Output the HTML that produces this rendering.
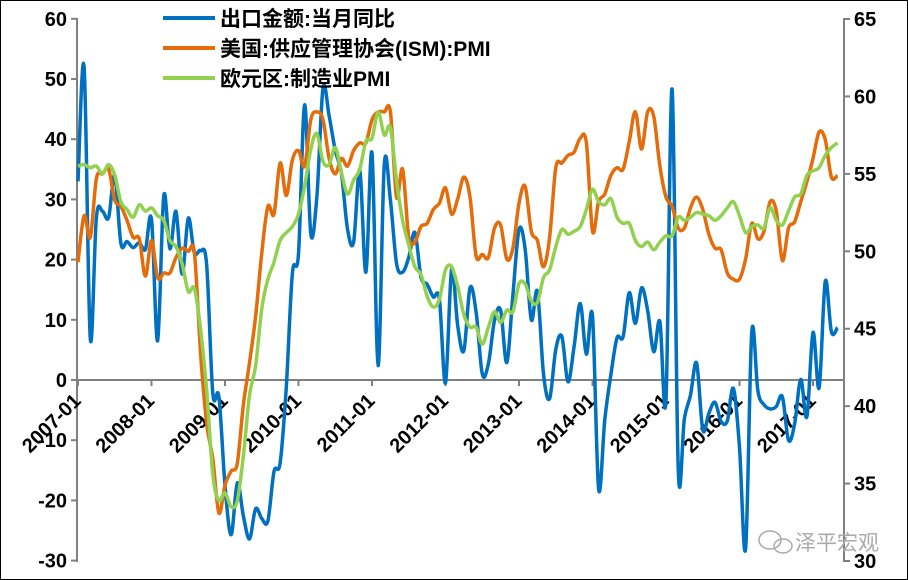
<!DOCTYPE html>
<html><head><meta charset="utf-8"><style>
html,body{margin:0;padding:0;background:#fff}
svg{display:block;font-family:"Liberation Sans","Noto Sans CJK SC",sans-serif}
</style></head><body>
<svg id="chart" width="908" height="580" viewBox="0 0 908 580" xmlns="http://www.w3.org/2000/svg">
<rect x="0.5" y="0.5" width="907" height="579" fill="#fff" stroke="#000" stroke-width="1"/>
<g id="axes"></g>
<g id="series"></g>
<g font-size="21" font-weight="bold" fill="#000">
<g><line x1="163" y1="18" x2="215" y2="18" stroke="#0070C0" stroke-width="4"/><text x="220" y="26">出口金额:当月同比</text></g>
<g><line x1="163" y1="48" x2="215" y2="48" stroke="#E46C0A" stroke-width="4"/><text x="220" y="56">美国:供应管理协会(ISM):PMI</text></g>
<g><line x1="163" y1="78" x2="215" y2="78" stroke="#92D050" stroke-width="4"/><text x="220" y="86">欧元区:制造业PMI</text></g>
</g>
<g fill="#999">
<ellipse cx="770" cy="540" rx="11" ry="9" fill="none" stroke="#aaa" stroke-width="1.5"/>
<ellipse cx="783" cy="546" rx="9" ry="7" fill="none" stroke="#aaa" stroke-width="1.5"/>
<text x="795" y="550" font-size="21" fill="#aaa">泽平宏观</text>
</g>
</svg>
<script>
const startYear = 2007;
const tickYears = ["2007-01","2008-01","2009-01","2010-01","2011-01","2012-01","2013-01","2014-01","2015-01","2016-01","2017-01"];
const leftTicks = [60,50,40,30,20,10,0,-10,-20,-30];
const rightTicks = [65,60,55,50,45,40,35,30];
const exportsYoY = [33,52,6.9,27,28,27,34,22.7,23,22,22.8,21.7,
26.7,6.5,30.6,21.8,28,17.6,26.9,21.1,21.5,19.2,-2.2,-2.8,
-17.5,-25.7,-17.1,-22.6,-26.4,-21.4,-23,-23.4,-15.2,-13.8,-1.2,17.7,
21,45.7,24.3,30.5,48.5,43.9,38.1,34.4,25.1,22.9,34.9,17.9,
37.7,2.4,35.8,29.9,19.4,17.9,20.4,24.5,17.1,15.9,13.8,13.4,
-0.5,18.4,8.9,4.9,15.3,11.3,1,2.7,9.9,11.6,2.9,14.1,
25,21.8,10,14.7,1,-3.1,5.1,7.2,-0.3,5.6,12.7,4.3,
10.6,-18.1,-6.6,0.9,7,7.2,14.5,9.4,15.3,11.6,4.7,9.7,
-3.3,48.3,-15,-6.4,-2.5,2.8,-8.3,-5.5,-3.7,-6.9,-6.8,-1.4,
-11.2,-28,8,-1.8,-4.1,-4.8,-4.4,-2.8,-10,-7.3,0.1,-6.1,
7.9,-1.3,16.4,8,8.7];
const ismPMI = [49.3,52.3,50.9,54.7,55,55.3,53.3,52.9,52,50.9,50.8,48.4,
50.7,48.3,48.6,48.6,49.6,50.2,50,49.9,43.5,38.9,36.6,33.1,
34.9,35.8,36.3,40.1,42.8,45.8,49.9,52.9,52.4,55.7,53.6,55.9,
56.5,55.5,58.5,59,58.5,56,55,56,55.5,56.5,57,57,
58.5,59,59,59,53.5,55.3,50.9,50.6,51.6,51.8,52.7,53.1,
54.1,52.4,53.4,54.8,53.5,49.7,49.8,49.6,51.5,51.7,49.5,50.2,
53.1,54.2,51.3,50.7,49,50.9,55.4,55.7,56.2,56.4,57.3,57,
51.3,53.2,53.7,54.9,55.4,55.3,57.1,59,56.6,59,58.7,55.5,
53.5,52.9,51.5,51.5,52.8,53.5,52.7,51.1,50.2,50.1,48.6,48.2,
48.2,49.5,51.8,50.8,51.3,53.2,52.6,49.4,51.5,51.9,53.2,54.5,
56,57.7,57.2,54.8,54.9];
const euroPMI = [55.5,55.6,55.4,55.5,55.0,55.6,54.9,53.2,52.7,52.2,53.0,52.6,
52.8,52.3,52.0,50.7,50.3,49.2,47.4,47.6,45.0,41.1,35.6,33.9,
34.4,33.5,33.9,36.8,40.7,42.6,46.3,48.2,49.3,50.7,51.2,51.6,
52.4,54.2,56.6,57.6,55.8,55.6,56.7,55.1,53.7,54.6,55.3,57.1,
57.3,59,57.5,58,54.6,52,50.4,49,48.5,47.1,46.4,46.9,
48.8,49,47.7,45.9,45.1,45.1,44,45.1,46.1,45.4,46.2,46.1,
47.9,47.9,46.8,46.7,48.3,48.8,50.3,51.4,51.1,51.3,51.6,52.7,
54,53.2,53,53.4,52.2,51.8,51.8,50.7,50.3,50.6,50.1,50.6,
51,51,52.2,52,52.2,52.5,52.4,52.3,52,52.3,52.8,53.2,
52.3,51.2,51.6,51.7,51.5,52.8,52,51.7,52.6,53.5,53.7,54.9,
55.2,55.4,56.2,56.7,57];

const NS="http://www.w3.org/2000/svg";
const X0=78, MW=6.125, LEFTX=77, RIGHTX=844;
const x=i=>X0+i*MW;
const yL=v=>380-v*6.02;
const yR=v=>19+(65-v)*15.486;
function mk(tag,attrs,parent){const e=document.createElementNS(NS,tag);for(const k in attrs)e.setAttribute(k,attrs[k]);parent.appendChild(e);return e;}
const axes=document.getElementById('axes');
let ax=mk('line',{x1:LEFTX,y1:18,x2:LEFTX,y2:562,stroke:'#808080','stroke-width':2},axes);


ax=mk('line',{x1:RIGHTX,y1:18,x2:RIGHTX,y2:562,stroke:'#808080','stroke-width':2},axes);


ax=mk('line',{x1:LEFTX,y1:yL(0),x2:RIGHTX,y2:yL(0),stroke:'#808080','stroke-width':2},axes);


leftTicks.forEach(v=>{
  mk('line',{x1:LEFTX-6,y1:yL(v),x2:LEFTX,y2:yL(v),stroke:'#808080','stroke-width':2},axes);
  const t=mk('text',{x:LEFTX-10,y:yL(v)+7,'text-anchor':'end','font-size':20,'font-weight':'bold',fill:'#000'},axes);
  t.textContent=v;
  
  
});
rightTicks.forEach(v=>{
  mk('line',{x1:RIGHTX,y1:yR(v),x2:RIGHTX+6,y2:yR(v),stroke:'#808080','stroke-width':2},axes);
  const t=mk('text',{x:RIGHTX+10,y:yR(v)+7,'text-anchor':'start','font-size':20,'font-weight':'bold',fill:'#000'},axes);
  t.textContent=v;
  
  
});
tickYears.forEach(lbl=>{
  const yr=parseInt(lbl.slice(0,4)),i=(yr-startYear)*12;
  const tx=x(i);
  mk('line',{x1:tx,y1:yL(0),x2:tx,y2:yL(0)+6,stroke:'#808080','stroke-width':2},axes);
  const t=mk('text',{x:tx+4,y:yL(0)+22,'text-anchor':'end','font-size':20,'font-weight':'bold',fill:'#000',transform:`rotate(-45 ${tx+4} ${yL(0)+22})`},axes);
  t.textContent=lbl;
  
  
});
function smooth(pts){
  let d=`M${pts[0][0].toFixed(1)},${pts[0][1].toFixed(1)}`;
  for(let i=0;i<pts.length-1;i++){
    const p0=pts[i-1]||pts[i],p1=pts[i],p2=pts[i+1],p3=pts[i+2]||p2;
    const c1=[p1[0]+(p2[0]-p0[0])/6,p1[1]+(p2[1]-p0[1])/6];
    const c2=[p2[0]-(p3[0]-p1[0])/6,p2[1]-(p3[1]-p1[1])/6];
    d+=`C${c1[0].toFixed(1)},${c1[1].toFixed(1)} ${c2[0].toFixed(1)},${c2[1].toFixed(1)} ${p2[0].toFixed(1)},${p2[1].toFixed(1)}`;
  }
  return d;
}
const series=document.getElementById('series');
function draw(data,yf,color,name){
  const p=mk('path',{d:smooth(data.map((v,i)=>[x(i),yf(v)])),fill:'none',stroke:color,'stroke-width':3.5,'stroke-linejoin':'round'},series);
  
  
}
draw(exportsYoY,yL,'#0070C0','exports-yoy-line');
draw(ismPMI,yR,'#E46C0A','ism-pmi-line');
draw(euroPMI,yR,'#92D050','eurozone-pmi-line');
</script>
</body></html>
